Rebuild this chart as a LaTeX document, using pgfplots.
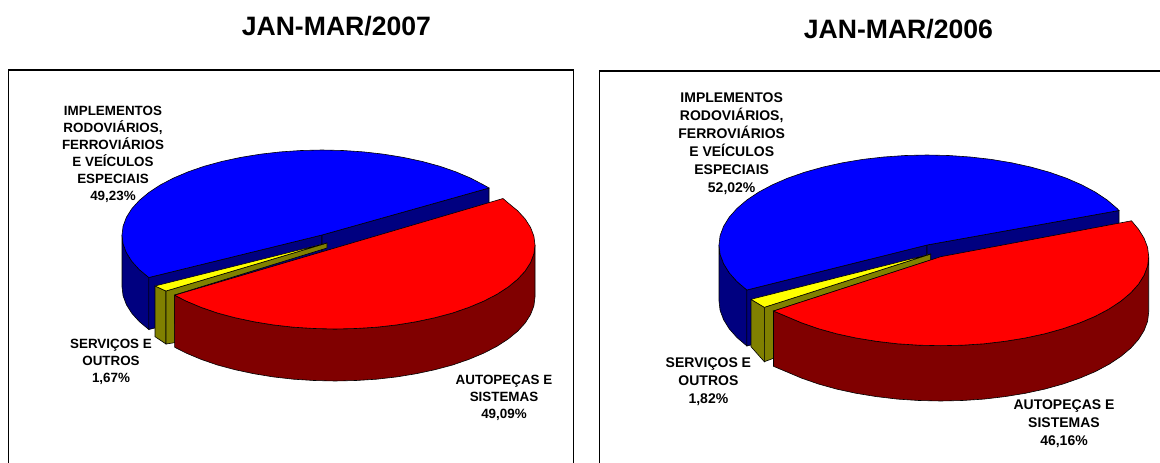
\documentclass[border=0pt]{standalone}
\usepackage{fontspec}
\setmainfont{Liberation Sans}
\usepackage{pgfplots}
\pgfplotsset{compat=1.18}
\definecolor{cblue}{HTML}{0000FF}
\definecolor{dblue}{HTML}{000080}
\definecolor{cred}{HTML}{FF0000}
\definecolor{dred}{HTML}{800000}
\definecolor{cyel}{HTML}{FFFF00}
\definecolor{doli}{HTML}{808000}
\tikzset{lab/.style={align=center,inner sep=0pt,font=\fontsize{13.4}{17}\selectfont\bfseries},
labr/.style={align=center,inner sep=0pt,font=\fontsize{14}{18}\selectfont\bfseries},
ttl/.style={inner sep=0pt,font=\fontsize{26.6}{30}\selectfont\bfseries}}
\begin{document}
\begin{tikzpicture}
\begin{axis}[scale only axis,width=1160pt,height=463pt,xmin=0,xmax=1160,ymin=0,ymax=463,y dir=reverse,ticks=none,axis line style={draw=none},clip=true]
% frames
\addplot[black,line width=1.9pt] coordinates {(8.5,470)(8.5,70)(573.5,70)(573.5,470)};
\addplot[black,line width=1.9pt] coordinates {(599.5,470)(599.5,71)(1170,71)};
% ---- left pie: blue wall
\addplot[fill=dblue,draw=black,line width=0.6pt] coordinates {(122,235)(123.1,243.9)(126.4,252.7)(131.8,261.3)(139.3,269.6)(148.8,277.5)(148.8,329.5)(139.3,321.6)(131.8,313.3)(126.4,304.7)(123.1,295.9)(122,287)} -- cycle;
\addplot[fill=dblue,draw=black,line width=0.6pt] coordinates {(148.8,277.5)(322,235)(322,287)(148.8,329.5)} -- cycle;
\addplot[fill=dblue,draw=black,line width=0.6pt] coordinates {(322,235)(489,188)(489,240)(322,287)} -- cycle;
% blue top
\addplot[fill=cblue,draw=black,line width=0.6pt] coordinates {(489,188)(483.8,185)(470.6,178.1)(455.8,171.8)(439.6,166.2)(422,161.4)(403.3,157.4)(383.8,154.2)(363.6,151.9)(342.9,150.5)(322,150)(301.1,150.5)(280.4,151.9)(260.2,154.2)(240.7,157.4)(222,161.4)(204.4,166.2)(188.2,171.8)(173.4,178.1)(160.2,185)(148.8,192.5)(139.3,200.4)(131.8,208.7)(126.4,217.3)(123.1,226.1)(122,235)(123.1,243.9)(126.4,252.7)(131.8,261.3)(139.3,269.6)(148.8,277.5)(322,235)} -- cycle;
% olive/yellow
\addplot[fill=doli,draw=black,line width=0.6pt] coordinates {(155,286)(166,291)(166,344)(155,336.7)} -- cycle;
\addplot[fill=doli,draw=black,line width=0.6pt] coordinates {(166,291)(327,243)(327,248)(174.6,295)(174.6,342.7)(166,344)} -- cycle;
\addplot[fill=cyel,draw=black,line width=0.6pt] coordinates {(155,286)(166,291)(327,243)} -- cycle;
% red wall
\addplot[fill=dred,draw=black,line width=0.6pt] coordinates {(535,245)(533.9,253.8)(530.6,262.5)(525.2,271)(517.7,279.2)(508.2,287)(496.8,294.4)(483.6,301.2)(468.8,307.4)(452.6,313)(435,317.7)(416.3,321.7)(396.8,324.9)(376.6,327.2)(355.9,328.5)(335,329)(314.1,328.5)(293.4,327.2)(273.2,324.9)(253.7,321.7)(235,317.7)(217.4,313)(201.2,307.4)(186.4,301.2)(174.6,295.2)(174.6,347.2)(186.4,353.2)(201.2,359.4)(217.4,365)(235,369.7)(253.7,373.7)(273.2,376.9)(293.4,379.2)(314.1,380.5)(335,381)(355.9,380.5)(376.6,379.2)(396.8,376.9)(416.3,373.7)(435,369.7)(452.6,365)(468.8,359.4)(483.6,353.2)(496.8,346.4)(508.2,339)(517.7,331.2)(525.2,323)(530.6,314.5)(533.9,305.8)(535,297)} -- cycle;
% red top
\addplot[fill=cred,draw=black,line width=0.6pt] coordinates {(503,198.5)(508.2,203)(517.7,210.8)(525.2,219)(530.6,227.5)(533.9,236.2)(535,245)(533.9,253.8)(530.6,262.5)(525.2,271)(517.7,279.2)(508.2,287)(496.8,294.4)(483.6,301.2)(468.8,307.4)(452.6,313)(435,317.7)(416.3,321.7)(396.8,324.9)(376.6,327.2)(355.9,328.5)(335,329)(314.1,328.5)(293.4,327.2)(273.2,324.9)(253.7,321.7)(235,317.7)(217.4,313)(201.2,307.4)(186.4,301.2)(174.6,295.2)} -- cycle;
% ---- right pie: blue wall
\addplot[fill=dblue,draw=black,line width=0.6pt] coordinates {(719,245)(720.1,254.4)(723.6,263.7)(729.2,272.8)(737,281.6)(746.9,290)(746.9,346)(737,337.6)(729.2,328.8)(723.6,319.7)(720.1,310.4)(719,301)} -- cycle;
\addplot[fill=dblue,draw=black,line width=0.6pt] coordinates {(746.9,290)(927,245)(927,301)(746.9,346)} -- cycle;
\addplot[fill=dblue,draw=black,line width=0.6pt] coordinates {(927,245)(1119,210.5)(1119,266.5)(927,301)} -- cycle;
\addplot[fill=cblue,draw=black,line width=0.6pt] coordinates {(1119,210.5)(1117,208.4)(1107.1,200)(1095.3,192.1)(1081.6,184.8)(1066.2,178.1)(1049.3,172.2)(1031,167.1)(1011.6,162.8)(991.3,159.4)(970.2,157)(948.7,155.5)(927,155)(905.3,155.5)(883.8,157)(862.7,159.4)(842.4,162.8)(823,167.1)(804.7,172.2)(787.8,178.1)(772.4,184.8)(758.7,192.1)(746.9,200)(737,208.4)(729.2,217.2)(723.6,226.3)(720.1,235.6)(719,245)(720.1,254.4)(723.6,263.7)(729.2,272.8)(737,281.6)(746.9,290)(927,245)} -- cycle;
\addplot[fill=doli,draw=black,line width=0.6pt] coordinates {(751,299.3)(764.3,307.3)(764.3,361.7)(751,346.7)} -- cycle;
\addplot[fill=doli,draw=black,line width=0.6pt] coordinates {(764.3,307.3)(930.7,254)(930.7,260)(773.5,311)(773.5,358.3)(764.3,361.7)} -- cycle;
\addplot[fill=cyel,draw=black,line width=0.6pt] coordinates {(751,299.3)(764.3,307.3)(930.7,254)} -- cycle;
\addplot[fill=dred,draw=black,line width=0.6pt] coordinates {(1148.7,256.7)(1147.6,266)(1144.1,275.2)(1138.5,284.2)(1130.7,292.9)(1120.8,301.2)(1109,309)(1095.3,316.3)(1079.9,322.8)(1063,328.7)(1044.7,333.8)(1025.3,338)(1005,341.3)(983.9,343.8)(962.4,345.2)(940.7,345.7)(919,345.2)(897.5,343.8)(876.4,341.3)(856.1,338)(836.7,333.8)(818.4,328.7)(801.5,322.8)(786.1,316.3)(773.5,311)(773.5,366.3)(786.1,371.6)(801.5,378.1)(818.4,384)(836.7,389.1)(856.1,393.3)(876.4,396.6)(897.5,399.1)(919,400.5)(940.7,401)(962.4,400.5)(983.9,399.1)(1005,396.6)(1025.3,393.3)(1044.7,389.1)(1063,384)(1079.9,378.1)(1095.3,371.6)(1109,364.3)(1120.8,356.5)(1130.7,348.2)(1138.5,339.5)(1144.1,330.5)(1147.6,321.3)(1148.7,312)} -- cycle;
\addplot[fill=cred,draw=black,line width=0.6pt] coordinates {(1131.5,220.8)(1138.5,229.2)(1144.1,238.2)(1147.6,247.4)(1148.7,256.7)(1147.6,266)(1144.1,275.2)(1138.5,284.2)(1130.7,292.9)(1120.8,301.2)(1109,309)(1095.3,316.3)(1079.9,322.8)(1063,328.7)(1044.7,333.8)(1025.3,338)(1005,341.3)(983.9,343.8)(962.4,345.2)(940.7,345.7)(919,345.2)(897.5,343.8)(876.4,341.3)(856.1,338)(836.7,333.8)(818.4,328.7)(801.5,322.8)(786.1,316.3)(773.5,311)(940.7,256.7)} -- cycle;
% text
\node[ttl] at (axis cs:336.4,26.5) {JAN-MAR/2007};
\node[ttl] at (axis cs:898.4,29.5) {JAN-MAR/2006};
\node[lab] at (axis cs:113,154.5) {IMPLEMENTOS\\RODOVIÁRIOS,\\FERROVIÁRIOS\\E VEÍCULOS\\ESPECIAIS\\49,23\%};
\node[lab] at (axis cs:111,362) {SERVIÇOS E\\OUTROS\\1,67\%};
\node[lab] at (axis cs:504,398.3) {AUTOPEÇAS E\\SISTEMAS\\49,09\%};
\node[labr] at (axis cs:731.7,143.5) {IMPLEMENTOS\\RODOVIÁRIOS,\\FERROVIÁRIOS\\E VEÍCULOS\\ESPECIAIS\\52,02\%};
\node[labr] at (axis cs:708.4,382) {SERVIÇOS E\\OUTROS\\1,82\%};
\node[labr] at (axis cs:1064,424) {AUTOPEÇAS E\\SISTEMAS\\46,16\%};
\end{axis}
\end{tikzpicture}
\end{document}
